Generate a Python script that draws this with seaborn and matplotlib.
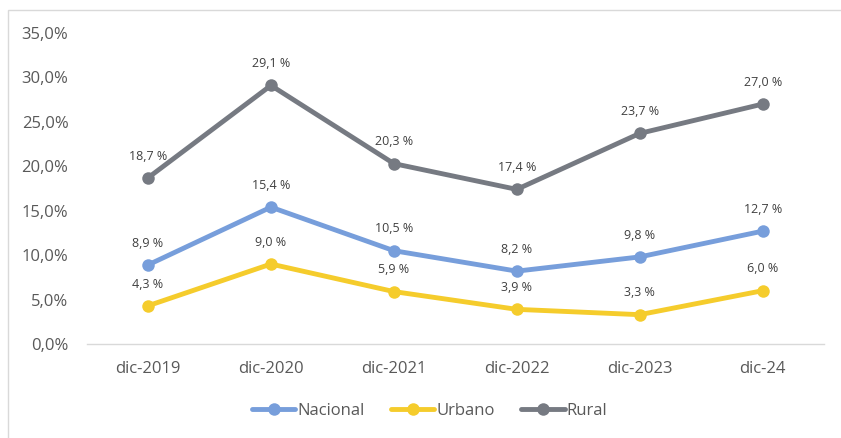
import pandas as pd
import numpy as np
import matplotlib
matplotlib.use("Agg")
import matplotlib.pyplot as plt
import seaborn as sns
from matplotlib.patches import Rectangle

# =========================
# DATA
# =========================

periodos = ["dic-2019", "dic-2020", "dic-2021", "dic-2022", "dic-2023", "dic-24"]
nacional = [8.9, 15.4, 10.5, 8.2, 9.8, 12.7]
urbano = [4.3, 9.0, 5.9, 3.9, 3.3, 6.0]
rural = [18.7, 29.1, 20.3, 17.4, 23.7, 27.0]

series = ["Nacional", "Urbano", "Rural"]
colores = ["#779EDB", "#F5CC2C", "#767A82"]

df = pd.DataFrame({
    "periodo": periodos * 3,
    "valor": nacional + urbano + rural,
    "serie": [s for s in series for _ in periodos],
})

# =========================
# PLOT
# =========================

sns.set_style("white")
plt.rcParams["font.family"] = ["Open Sans", "DejaVu Sans"]

fig = plt.figure(figsize=(8.41, 4.38), dpi=100)
ax = fig.add_axes([0.1029, 0.2146, 0.877, 0.7101])

sns.lineplot(
    data=df, x="periodo", y="valor", hue="serie",
    palette=colores, marker="o", markersize=9, markeredgewidth=0,
    linewidth=3.5, sort=False, ax=ax,
)

# data labels
for vals, s in zip([nacional, urbano, rural], series):
    for i, v in enumerate(vals):
        ax.annotate(f"{v:.1f} %".replace(".", ","), (i, v),
                    xytext=(0, 11), textcoords="offset points",
                    ha="center", va="bottom", fontsize=9, color="#404040")

ax.set_xlim(-0.5, 5.5)
ax.set_ylim(0, 35)
ax.set_yticks(np.arange(0, 36, 5))
ax.set_yticklabels([f"{t:.1f}%".replace(".", ",") for t in np.arange(0, 36, 5)])
ax.set_xlabel("")
ax.set_ylabel("")
ax.tick_params(axis="both", length=0, labelsize=12, labelcolor="#595959")
ax.tick_params(axis="y", pad=13)
ax.tick_params(axis="x", pad=12)

for side in ["top", "right", "left"]:
    ax.spines[side].set_visible(False)
ax.spines["bottom"].set_color("#D9D9D9")
ax.spines["bottom"].set_linewidth(1)

handles, labels = ax.get_legend_handles_labels()
ax.legend(handles, labels, loc="center", bbox_to_anchor=(0.465, -0.215),
          ncol=3, frameon=False, fontsize=12, handlelength=2.6,
          handletextpad=0.1, columnspacing=1.6, labelcolor="#595959")

# outer chart border
fig.patches.append(Rectangle((8 / 841, -0.1), 2, 1 - 10 / 438 + 0.1,
                             transform=fig.transFigure, fill=False,
                             edgecolor="#D9D9D9", linewidth=1))

fig.savefig("out.png", dpi=100)
